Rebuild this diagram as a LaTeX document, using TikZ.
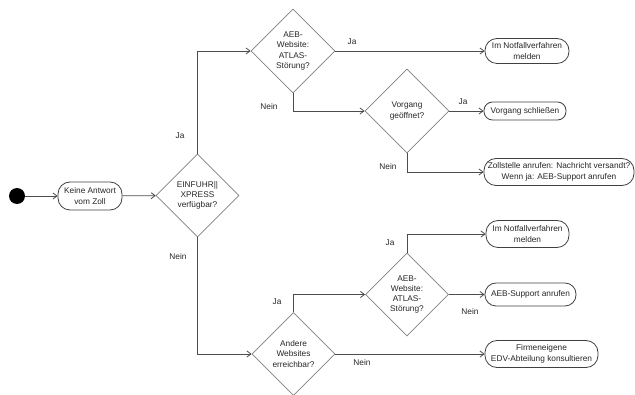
\documentclass[tikz,border=0pt]{standalone}
\usepackage{fontspec}
\setmainfont{Liberation Sans}
\usetikzlibrary{shapes.geometric,arrows.meta}
\begin{document}
\begin{tikzpicture}[x=1pt,y=-1pt,
  every node/.style={font=\fontsize{8.3}{10.3}\selectfont, text=black!85},
  actbox/.style={draw=black!75, line width=0.8pt, rounded corners=12pt, align=center, inner sep=1pt},
  decbox/.style={draw=black!50, line width=0.8pt, diamond, aspect=1, inner sep=0pt, minimum width=84pt, minimum height=84pt, align=center},
  conn/.style={draw=black!70, line width=0.8pt, -{Straight Barb[length=4pt,width=6pt]}},
  lbl/.style={inner sep=0pt}
]
\useasboundingbox (0,0) rectangle (635,395);
\fill[black] (17,196) circle (8);
\node (startc) [circle, minimum size=16pt, inner sep=0pt] at (17,196) {};
\node[actbox, minimum width=64pt, minimum height=28pt] (n1) at (90,196) {Keine Antwort\\vom Zoll};
\node[decbox, minimum width=83pt, minimum height=83pt] (d1) at (197.5,195.5) {EINFUHR||\\XPRESS\\verfügbar?};
\node[decbox] (d2) at (293,51) {AEB-\\Website:\\ATLAS-\\Störung?};
\node[decbox] (d3) at (407,111) {Vorgang\\geöffnet?};
\node[decbox, minimum width=83pt, minimum height=83pt] (d4) at (293.5,354) {Andere\\Websites\\erreichbar?};
\node[decbox, minimum width=83pt, minimum height=83pt] (d5) at (407,294.5) {AEB-\\Website:\\ATLAS-\\Störung?};
\node[actbox, minimum width=84pt, minimum height=25pt] (notf1) at (527,51) {Im Notfallverfahren\\melden};
\node[actbox, rounded corners=8.5pt, minimum width=82pt, minimum height=18pt] (vs) at (525,111) {Vorgang schließen};
\node[actbox, minimum width=150pt, minimum height=27pt] (zs) at (559,172) {Zollstelle anrufen: Nachricht versandt?\\Wenn ja: AEB-Support anrufen};
\node[actbox, minimum width=83pt, minimum height=27pt] (notf2) at (527.5,234) {Im Notfallverfahren\\melden};
\node[actbox, rounded corners=11pt, minimum width=91pt, minimum height=23pt] (aeb) at (530.5,294.5) {AEB-Support anrufen};
\node[actbox, minimum width=113pt, minimum height=27pt] (firm) at (541.5,354) {Firmeneigene\\EDV-Abteilung konsultieren};
\draw[conn] (startc) -- (n1);
\draw[conn] (n1) -- (d1);
\draw[conn] (d1.north) |- (d2.west);
\draw[conn] (d2.east) -- (notf1.west);
\draw[conn] (d2.south) |- (d3.west);
\draw[conn] (d3.east) -- (vs.west);
\draw[conn] (d3.south) |- (zs.west);
\draw[conn] (d1.south) |- (d4.west);
\draw[conn] (d4.north) |- (d5.west);
\draw[conn] (d5.north) |- (notf2.west);
\draw[conn] (d5.east) -- (aeb.west);
\draw[conn] (d4.east) -- (firm.west);
\node[lbl] (l1) at (180,136) {Ja};
\node[lbl] (l2) at (178,257) {Nein};
\node[lbl] (l3) at (352,42) {Ja};
\node[lbl] (l4) at (269,107) {Nein};
\node[lbl] (l5) at (463,102) {Ja};
\node[lbl] (l6) at (388,167) {Nein};
\node[lbl] (l7) at (277,302) {Ja};
\node[lbl] (l8) at (390,243) {Ja};
\node[lbl] (l9) at (470,312) {Nein};
\node[lbl] (l10) at (362,363) {Nein};
\end{tikzpicture}
\end{document}
